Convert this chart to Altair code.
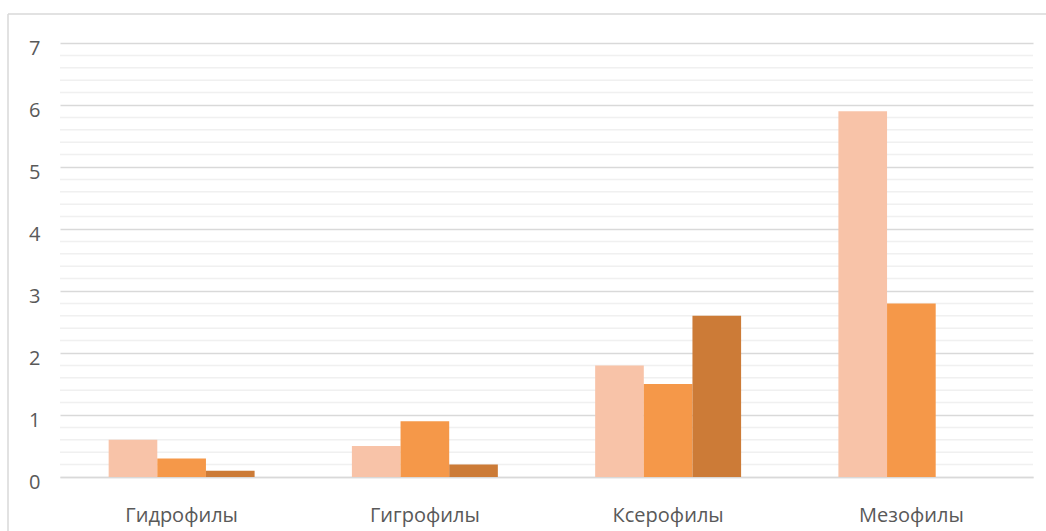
import altair as alt
import pandas as pd

categories = ["Гидрофилы", "Гигрофилы", "Ксерофилы", "Мезофилы"]
series = ["Ряд 1", "Ряд 2", "Ряд 3"]
values_1 = [0.6, 0.5, 1.8, 5.9]
values_2 = [0.3, 0.9, 1.5, 2.8]
values_3 = [0.1, 0.2, 2.6, 0.0]
colors = ["#F8C3A8", "#F59849", "#CC7B37"]
major_ticks = [0, 1, 2, 3, 4, 5, 6, 7]
minor_ticks = [round(i * 0.2, 1) for i in range(36) if (i % 5) != 0]

rows = []
for c, a, b, d in zip(categories, values_1, values_2, values_3):
    rows.append({"cat": c, "series": series[0], "value": a})
    rows.append({"cat": c, "series": series[1], "value": b})
    rows.append({"cat": c, "series": series[2], "value": d})
df = pd.DataFrame(rows)

FONT = "Open Sans"
W, H = 973, 434
yscale = alt.Scale(domain=[0, 7], nice=False)
yaxis = alt.Axis(values=major_ticks, labelFont=FONT, labelFontSize=20,
                 labelColor="#595959", labelPadding=20, labelOffset=5,
                 ticks=False, domain=False, grid=True, gridColor="#d9d9d9",
                 gridWidth=1.5, format="d", title=None)

minor = alt.Chart(pd.DataFrame({"v": minor_ticks})).mark_rule(
    color="#f0f0f0", strokeWidth=1.5
).encode(y=alt.Y("v:Q", scale=yscale, axis=yaxis, title=None))

bars = alt.Chart(df).mark_bar().encode(
    x=alt.X("cat:N", sort=categories, title=None,
            scale=alt.Scale(paddingInner=0.4, paddingOuter=0.2),
            axis=alt.Axis(labelAngle=0, labelFont=FONT, labelFontSize=20,
                          labelColor="#595959", labelPadding=28, ticks=False,
                          domain=True, domainColor="#d9d9d9", domainWidth=1.5,
                          grid=False)),
    xOffset=alt.XOffset("series:N", sort=series, scale=alt.Scale(paddingInner=0, paddingOuter=0)),
    y=alt.Y("value:Q", title=None, scale=yscale, axis=yaxis),
    color=alt.Color("series:N", sort=series, legend=None,
                    scale=alt.Scale(domain=series, range=colors)),
)

border_left = alt.Chart(pd.DataFrame({"a": [0]})).mark_rule(
    color="#d9d9d9", strokeWidth=1.5
).encode(x=alt.value(-52), y=alt.value(-29), y2=alt.value(H + 60))
border_top = alt.Chart(pd.DataFrame({"a": [0]})).mark_rule(
    color="#d9d9d9", strokeWidth=1.5
).encode(x=alt.value(-52), x2=alt.value(W + 40), y=alt.value(-29))

chart = alt.layer(minor, bars, border_left, border_top).properties(
    width=W, height=H,
    background="white",
    autosize=alt.AutoSizeParams(type="none"),
    padding={"left": 60, "top": 43, "right": 13, "bottom": 54},
).configure_view(strokeWidth=0, stroke="transparent")

chart.save("out.html", embed_options={"renderer": "svg", "actions": False})
